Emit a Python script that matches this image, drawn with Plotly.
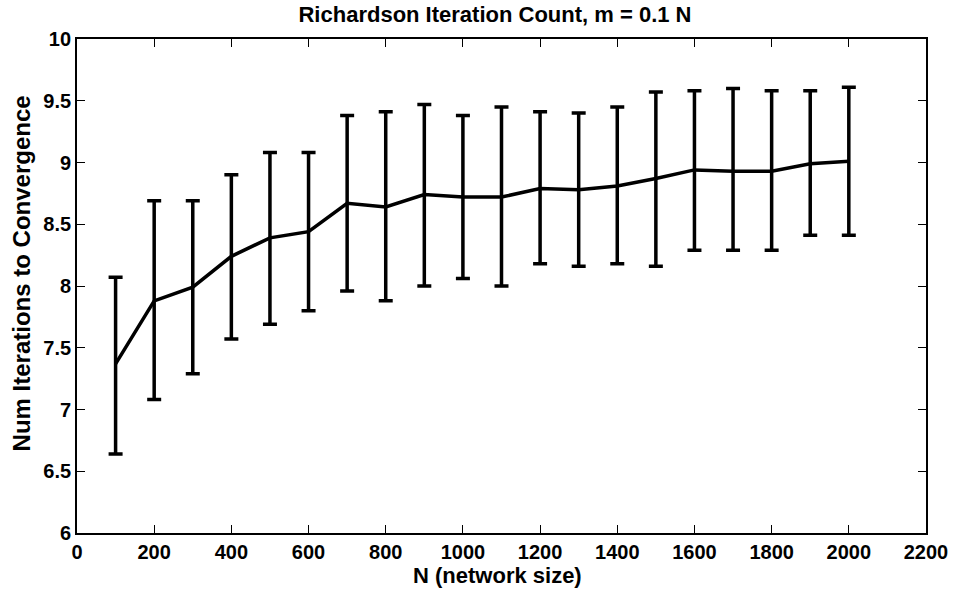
import plotly.graph_objects as go

N = [100, 200, 300, 400, 500, 600, 700, 800, 900, 1000,
     1100, 1200, 1300, 1400, 1500, 1600, 1700, 1800, 1900, 2000]
mean_iters = [7.37, 7.88, 7.99, 8.24, 8.39, 8.44, 8.67, 8.64, 8.74, 8.72,
              8.72, 8.79, 8.78, 8.81, 8.87, 8.94, 8.93, 8.93, 8.99, 9.01]
upper = [8.07, 8.69, 8.69, 8.90, 9.08, 9.08, 9.38, 9.41, 9.47, 9.38,
         9.45, 9.41, 9.40, 9.45, 9.57, 9.58, 9.60, 9.58, 9.58, 9.61]
lower = [6.64, 7.08, 7.29, 7.57, 7.69, 7.80, 7.96, 7.88, 8.00, 8.06,
         8.00, 8.18, 8.16, 8.18, 8.16, 8.29, 8.29, 8.29, 8.41, 8.41]
x_ticks = list(range(0, 2201, 200))
y_ticks = [6, 6.5, 7, 7.5, 8, 8.5, 9, 9.5, 10]
y_tick_text = ["6", "6.5", "7", "7.5", "8", "8.5", "9", "9.5", "10"]

err_plus = [u - m for u, m in zip(upper, mean_iters)]
err_minus = [m - l for m, l in zip(mean_iters, lower)]

fig = go.Figure()
fig.add_trace(go.Scatter(
    x=N, y=mean_iters, mode="lines",
    line=dict(color="black", width=3.5),
    error_y=dict(type="data", symmetric=False, array=err_plus, arrayminus=err_minus,
                 color="black", thickness=3.5, width=7),
    showlegend=False,
))

font = "Liberation Sans, Arial, Helvetica, sans-serif"
axis_common = dict(
    showgrid=False, zeroline=False, showline=True, linecolor="black", linewidth=1.8,
    mirror="ticks", ticks="inside", ticklen=8, tickwidth=1.3, tickcolor="black",
    tickfont=dict(family=font, size=20, color="black", weight="bold"),
)
fig.update_xaxes(range=[0, 2200], tickvals=x_ticks, **axis_common)
fig.update_yaxes(range=[6, 10], tickvals=y_ticks, ticktext=y_tick_text, **axis_common)

fig.add_annotation(text="N (network size)", xref="paper", yref="paper",
                   x=(500 - 77) / (932 - 77), y=-(575 - 533) / (533 - 39),
                   xanchor="center", yanchor="middle", showarrow=False,
                   font=dict(family=font, size=22, color="black", weight="bold"))
fig.add_annotation(text="Num Iterations to Convergence", xref="paper", yref="paper",
                   x=-(77 - 21) / (932 - 77), y=(533 - 273) / (533 - 39),
                   xanchor="center", yanchor="middle", textangle=-90, showarrow=False,
                   font=dict(family=font, size=24, color="black", weight="bold"))

fig.update_layout(
    width=960, height=590,
    margin=dict(l=77, r=28, t=39, b=57),
    paper_bgcolor="white", plot_bgcolor="white",
    title=dict(text="Richardson Iteration Count, m = 0.1 N", x=495 / 960, xanchor="center",
               y=1 - 14 / 590, yanchor="middle",
               font=dict(family=font, size=22, color="black", weight="bold")),
)
fig.write_html("out.html")
